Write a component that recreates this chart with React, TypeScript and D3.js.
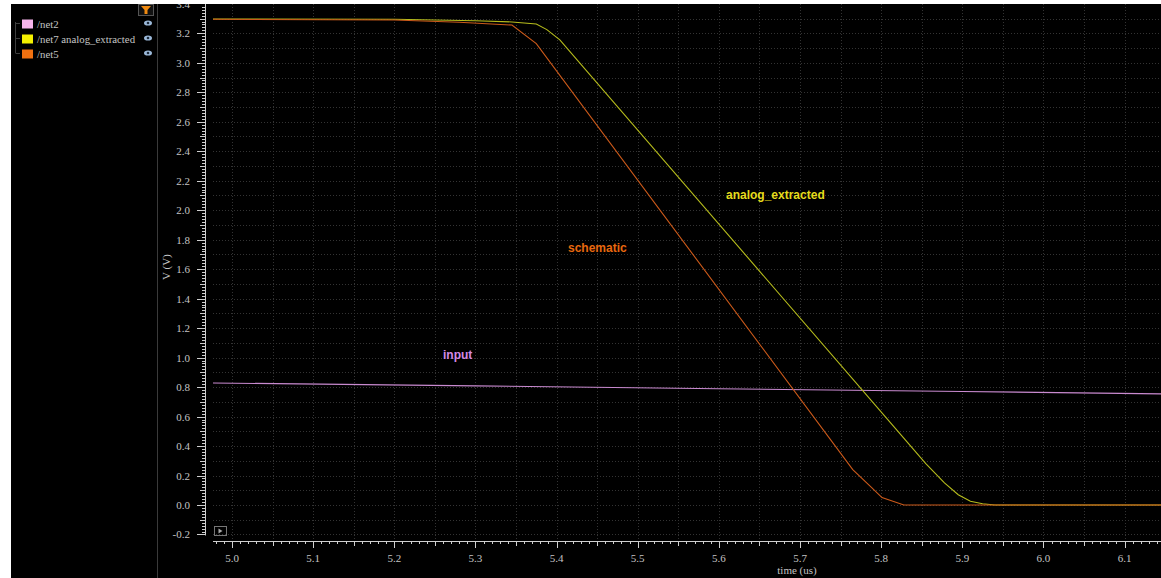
import React from "react";
import * as d3 from "d3";

// Transient waveforms (time in us, voltage in V)
const net2Input: [number, number][] = [
  [4.976, 0.828], [5.3, 0.808], [5.6, 0.789], [5.9, 0.77], [6.145, 0.754],
];

const net7AnalogExtracted: [number, number][] = [
  [4.976, 3.297], [5.2, 3.295], [5.3, 3.285], [5.345, 3.277], [5.375, 3.263],
  [5.388, 3.225], [5.404, 3.155], [5.83, 0.44], [5.855, 0.28], [5.878, 0.15],
  [5.895, 0.07], [5.91, 0.025], [5.925, 0.008], [5.94, 0.0], [6.145, 0.0],
];

const net5Schematic: [number, number][] = [
  [4.976, 3.295], [5.2, 3.29], [5.28, 3.275], [5.345, 3.256], [5.375, 3.13],
  [5.765, 0.24], [5.788, 0.12], [5.801, 0.05], [5.828, 0.0], [6.145, 0.0],
];

const legendNames = ["/net2", "/net7 analog_extracted", "/net5"];
const legendSwatches = ["#f7b4ec", "#f4f000", "#f07010"];

const xTicks = [5.0, 5.1, 5.2, 5.3, 5.4, 5.5, 5.6, 5.7, 5.8, 5.9, 6.0, 6.1];
const yTicks = [-0.2, 0.0, 0.2, 0.4, 0.6, 0.8, 1.0, 1.2, 1.4, 1.6, 1.8, 2.0, 2.2, 2.4, 2.6, 2.8, 3.0, 3.2, 3.4];

const W = 1161;
const H = 578;
const TOP = 4;
const LEFT = 11;
const PLOT_L = 213;
const PLOT_B = 541;
const YAXIS_X = 205;

const SERIF = "'Liberation Serif', 'DejaVu Serif', serif";
const SANS = "'Liberation Sans', Arial, sans-serif";

export default function App() {
  const x = d3.scaleLinear().domain([5.0, 6.1]).range([232, 1124.6]);
  const y = d3.scaleLinear().domain([0, 3.2]).range([505, 33.3]);
  const xMin = x.invert(PLOT_L);
  const xMax = x.invert(W);
  const yMin = y.invert(PLOT_B);
  const yMax = y.invert(TOP);

  const line = d3
    .line<[number, number]>()
    .x((d) => x(d[0]))
    .y((d) => y(d[1]));

  // grid: every 0.05 us vertically, every 0.1 V horizontally
  const xGrid = d3.range(Math.ceil(xMin / 0.05), Math.floor(xMax / 0.05) + 1).map((i) => i * 0.05);
  const yGrid = d3.range(Math.ceil(yMin / 0.1), Math.floor(yMax / 0.1) + 1).map((i) => i * 0.1);

  const xMinor = d3.range(Math.ceil(xMin / 0.01), Math.floor(xMax / 0.01) + 1);
  const yMinor = d3.range(Math.ceil(-0.2 / 0.02 - 0.001), Math.floor(yMax / 0.02) + 1);

  const axisColor = "#cfcfcf";
  const textColor = "#c4c4c4";

  return (
    <svg
      width={W}
      height={H}
      style={{ position: "absolute", left: 0, top: 0, background: "#fff" }}
    >
      <defs>
        <clipPath id="screen">
          <rect x={LEFT} y={TOP} width={W - LEFT} height={H - TOP} />
        </clipPath>
        <clipPath id="plot">
          <rect x={PLOT_L} y={TOP} width={W - PLOT_L} height={PLOT_B - TOP} />
        </clipPath>
      </defs>
      <g clipPath="url(#screen)">
        <rect x={LEFT} y={TOP} width={W - LEFT} height={H - TOP} fill="#000" />

        {/* legend panel */}
        <line x1={157.5} x2={157.5} y1={TOP} y2={H} stroke="#3a3a3a" />
        <rect x={138.5} y={4.5} width={15} height={11} fill="#111" stroke="#555" />
        <path d="M141,6 L151,6 L147.5,10 L147.5,14 L144.5,14 L144.5,10 Z" fill="#f08a10" />
        <path d="M15.5,22 V53 M15.5,23.5 H20 M15.5,38.5 H20 M15.5,53.5 H20" stroke="#3e3e3e" fill="none" />
        {legendNames.map((name, i) => {
          const cy = 24 + i * 15;
          return (
            <g key={name}>
              <rect x={22} y={cy - 4.5} width={11} height={9} fill={legendSwatches[i]} />
              <text x={37} y={cy + 4} fontFamily={SERIF} fontSize={10.8} fill={textColor}>
                {name}
              </text>
              <ellipse cx={148} cy={cy - 1} rx={4} ry={2.6} fill="#9bb8d8" />
              <circle cx={148} cy={cy - 1} r={1.3} fill="#1c2a3a" />
            </g>
          );
        })}

        {/* grid */}
        <g clipPath="url(#plot)" stroke="#333" strokeDasharray="1 2" strokeWidth={1}>
          {xGrid.map((t) => (
            <line key={"gx" + t} x1={Math.round(x(t)) + 0.5} x2={Math.round(x(t)) + 0.5} y1={TOP} y2={PLOT_B} />
          ))}
          {yGrid.map((v) => (
            <line key={"gy" + v} x1={PLOT_L} x2={W} y1={Math.round(y(v)) + 0.5} y2={Math.round(y(v)) + 0.5} />
          ))}
        </g>

        {/* y axis */}
        <line x1={YAXIS_X + 0.5} x2={YAXIS_X + 0.5} y1={TOP} y2={y(-0.2) + 1} stroke={axisColor} />
        {yMinor.map((i) => {
          const v = i * 0.02;
          const major = i % 10 === 0;
          const mid = !major && i % 5 === 0;
          const len = major ? 8 : mid ? 5 : 3;
          const py = Math.round(y(v)) + 0.5;
          return <line key={"yt" + i} x1={YAXIS_X - len} x2={YAXIS_X} y1={py} y2={py} stroke={axisColor} />;
        })}
        {yTicks.map((v) => (
          <text
            key={"yl" + v}
            x={190}
            y={y(v) + 4}
            textAnchor="end"
            fontFamily={SERIF}
            fontSize={11}
            fill={textColor}
          >
            {v.toFixed(1)}
          </text>
        ))}
        <text
          transform={`translate(170,${y(1.6) - 2}) rotate(-90)`}
          textAnchor="middle"
          fontFamily={SERIF}
          fontSize={11}
          fill={textColor}
        >
          V (V)
        </text>

        {/* x axis */}
        <line x1={PLOT_L} x2={W} y1={PLOT_B + 0.5} y2={PLOT_B + 0.5} stroke={axisColor} />
        {xMinor.map((i) => {
          const major = i % 10 === 0;
          const mid = !major && i % 5 === 0;
          const len = major ? 7 : mid ? 5 : 3;
          const px = Math.round(x(i * 0.01)) + 0.5;
          return <line key={"xt" + i} x1={px} x2={px} y1={PLOT_B} y2={PLOT_B + len} stroke={axisColor} />;
        })}
        {xTicks.map((t) => (
          <text
            key={"xl" + t}
            x={x(t)}
            y={562}
            textAnchor="middle"
            fontFamily={SERIF}
            fontSize={11}
            fill={textColor}
          >
            {t.toFixed(1)}
          </text>
        ))}
        <text x={797} y={574} textAnchor="middle" fontFamily={SERIF} fontSize={11} fill={textColor}>
          time (us)
        </text>

        {/* playback button */}
        <rect x={214.5} y={526.5} width={12} height={9} fill="none" stroke="#777" />
        <path d="M218.5,528.5 L222.5,531 L218.5,533.5 Z" fill="#aaa" />

        {/* waveforms */}
        <g clipPath="url(#plot)" fill="none" strokeWidth={1.1}>
          <path d={line(net2Input) ?? ""} stroke="#c98ad0" />
          <path d={line(net7AnalogExtracted) ?? ""} stroke="#b6bc1c" />
          <path d={line(net5Schematic) ?? ""} stroke="#cc5a1a" />
        </g>

        {/* trace annotations */}
        <text x={726} y={199} fontFamily={SANS} fontWeight="bold" fontSize={12} fill="#e6dc1c">
          analog_extracted
        </text>
        <text x={568} y={252} fontFamily={SANS} fontWeight="bold" fontSize={12} fill="#e8680e">
          schematic
        </text>
        <text x={443} y={359} fontFamily={SANS} fontWeight="bold" fontSize={12} fill="#d48ae6">
          input
        </text>
      </g>
    </svg>
  );
}
